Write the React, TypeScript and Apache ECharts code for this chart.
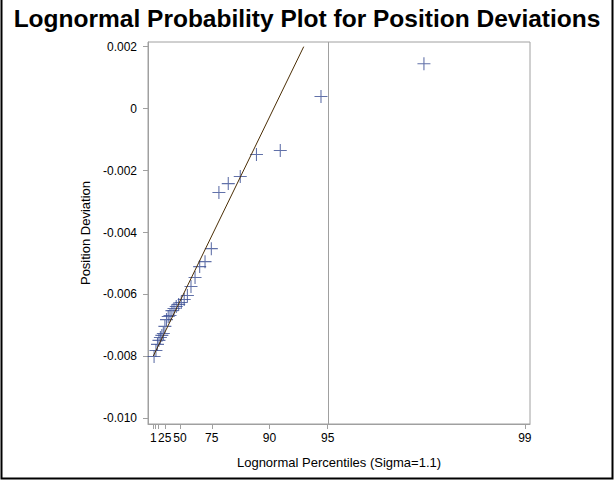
import React, { useEffect, useRef } from "react";
import * as echarts from "echarts";

// Sorted position deviations (30 observations)
const deviations = [
  -0.0080, -0.00781, -0.00761, -0.00748, -0.00739, -0.00732, -0.00726, -0.00703,
  -0.00681, -0.00671, -0.00668, -0.00652, -0.00645, -0.00639, -0.00632, -0.00626,
  -0.00616, -0.00603, -0.00574, -0.00545, -0.0051, -0.00494, -0.00452, -0.00271,
  -0.00242, -0.00219, -0.00148, -0.00135, 0.00039, 0.00145,
];

// Percentile ticks on the horizontal axis
const tickPercents = [1, 5, 10, 25, 50, 75, 90, 95, 99];
const labelPercents = [1, 25, 50, 75, 90, 95, 99];
const refPercent = 95;

// Vertical axis ticks
const yTicks = [-0.01, -0.008, -0.006, -0.004, -0.002, 0, 0.002];

// Lognormal shape and fitted reference line (threshold, scale)
const sigma = 1.1;
const lineTheta = -0.00814;
const lineScale = 0.001921;
const lineStartX = 0.08;

// Acklam's rational approximation of the inverse standard normal CDF
function invNorm(p: number): number {
  const a = [-3.969683028665376e1, 2.209460984245205e2, -2.759285104469687e2, 1.38357751867269e2, -3.066479806614716e1, 2.506628277459239];
  const b = [-5.447609879822406e1, 1.615858368580409e2, -1.556989798598866e2, 6.680131188771972e1, -1.328068155288572e1];
  const c = [-7.784894002430293e-3, -3.223964580411365e-1, -2.400758277161838, -2.549732539343734, 4.374664141464968, 2.938163982698783];
  const d = [7.784695709041462e-3, 3.224671290700398e-1, 2.445134137142996, 3.754408661907416];
  const pl = 0.02425;
  if (p < pl) {
    const q = Math.sqrt(-2 * Math.log(p));
    return (((((c[0] * q + c[1]) * q + c[2]) * q + c[3]) * q + c[4]) * q + c[5]) /
      ((((d[0] * q + d[1]) * q + d[2]) * q + d[3]) * q + 1);
  }
  if (p > 1 - pl) {
    const q = Math.sqrt(-2 * Math.log(1 - p));
    return -(((((c[0] * q + c[1]) * q + c[2]) * q + c[3]) * q + c[4]) * q + c[5]) /
      ((((d[0] * q + d[1]) * q + d[2]) * q + d[3]) * q + 1);
  }
  const q = p - 0.5;
  const r = q * q;
  return ((((((a[0] * r + a[1]) * r + a[2]) * r + a[3]) * r + a[4]) * r + a[5]) * q) /
    (((((b[0] * r + b[1]) * r + b[2]) * r + b[3]) * r + b[4]) * r + 1);
}

// Lognormal quantile for a percentile
const quant = (pct: number) => Math.exp(sigma * invNorm(pct / 100));

const n = deviations.length;
// Blom plotting positions
const points = deviations.map((y, i) => [quant((100 * (i + 1 - 0.375)) / (n + 0.25)), y]);

const lineEndX = (yTicks[yTicks.length - 1] - lineTheta) / lineScale;
const fitLine = [
  [lineStartX, lineTheta + lineScale * lineStartX],
  [lineEndX, lineTheta + lineScale * lineEndX],
];

const tickVals = tickPercents.map(quant);
const labelVals = labelPercents.map(quant);
const pctOf = (v: number) => {
  let best = labelPercents[0];
  let bd = Infinity;
  labelPercents.forEach((p) => {
    const dd = Math.abs(quant(p) - v);
    if (dd < bd) { bd = dd; best = p; }
  });
  return String(best);
};

const GRAY = "#a0a0a0";
const FONT = "'Liberation Sans', Arial, sans-serif";

export default function App() {
  const ref = useRef<HTMLDivElement>(null);
  useEffect(() => {
    if (!ref.current) return;
    const chart = echarts.init(ref.current, undefined, { renderer: "svg" });
    chart.setOption({
      animation: false,
      backgroundColor: "#ffffff",
      textStyle: { fontFamily: FONT },
      title: {
        text: "Lognormal Probability Plot for Position Deviations",
        left: "center",
        top: 1,
        textStyle: { fontFamily: FONT, fontSize: 24.5, fontWeight: "bold", color: "#000" },
      },
      grid: { left: 148, right: 84, top: 42, bottom: 56, show: true, borderColor: GRAY, borderWidth: 1 },
      xAxis: {
        type: "value",
        min: -0.104,
        max: 13.1,
        name: "Lognormal Percentiles (Sigma=1.1)",
        nameLocation: "middle",
        nameGap: 32,
        nameTextStyle: { fontSize: 13, color: "#000", fontFamily: FONT },
        axisLine: { show: true, onZero: false, lineStyle: { color: GRAY } },
        axisTick: { show: true, length: 5, customValues: tickVals, lineStyle: { color: GRAY } },
        axisLabel: {
          customValues: labelVals,
          formatter: (v: number) => pctOf(v),
          fontSize: 12,
          color: "#000",
          margin: 8,
          fontFamily: FONT,
        },
        splitLine: { show: false },
      },
      yAxis: {
        type: "value",
        min: -0.01018,
        max: 0.00215,
        name: "Position Deviation",
        nameLocation: "middle",
        nameGap: 47,
        nameTextStyle: { fontSize: 13, color: "#000", fontFamily: FONT },
        axisLine: { show: true, onZero: false, lineStyle: { color: GRAY } },
        axisTick: { show: true, length: 5, customValues: yTicks, lineStyle: { color: GRAY } },
        axisLabel: {
          customValues: yTicks,
          formatter: (v: number) => (Math.abs(v) < 1e-12 ? "0" : v.toFixed(3)),
          fontSize: 12,
          color: "#000",
          margin: 11,
          fontFamily: FONT,
        },
        splitLine: { show: false },
      },
      series: [
        {
          type: "line",
          data: fitLine,
          symbol: "none",
          lineStyle: { color: "#4b2e05", width: 1 },
          silent: true,
          markLine: {
            silent: true,
            symbol: "none",
            label: { show: false },
            lineStyle: { color: GRAY, width: 1, type: "solid" },
            data: [{ xAxis: quant(refPercent) }],
          },
        },
        {
          type: "scatter",
          data: points,
          symbol: "path://M5.5,0H6.5V5.5H12V6.5H6.5V12H5.5V6.5H0V5.5H5.5Z",
          symbolSize: 13,
          itemStyle: { color: "#3a4d94" },
        },
      ],
      graphic: [
        {
          // page frame: left, bottom and right edges
          type: "polyline",
          shape: { points: [[1.5, 0], [1.5, 478.5], [612.5, 478.5], [612.5, 0]] },
          style: { fill: "none", stroke: "#000", lineWidth: 2 },
          silent: true,
        },
      ],
    });
    return () => chart.dispose();
  }, []);
  return (
    <div
      ref={ref}
      style={{ position: "fixed", left: 0, top: 0, width: 614, height: 480 }}
    />
  );
}
